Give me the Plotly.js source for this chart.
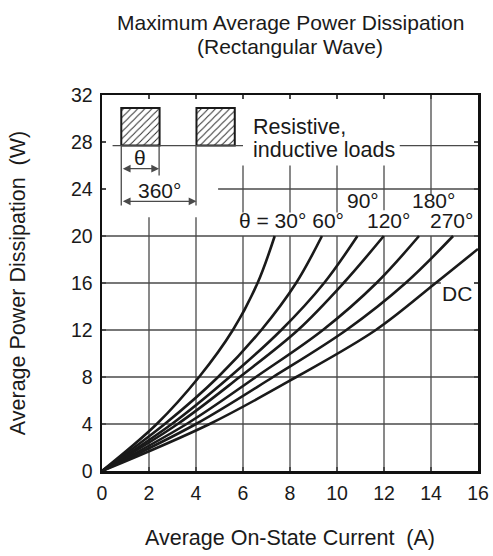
<!DOCTYPE html>
<html>
<head>
<meta charset="utf-8">
<script src="https://cdn.plot.ly/plotly-3.0.1.min.js"></script>
<style>html,body{margin:0;padding:0;background:#fff;}#chart{width:493px;height:556px;}</style>
</head>
<body>
<div id="chart"></div>
<script>
// ---- data ----
const seriesNames = ['30°', '60°', '90°', '120°', '180°', '270°', 'DC'];
const powerAtCrossings = [0, 4, 8, 12, 16, 20];          // W
const current30  = [0, 2.33, 4.13, 5.57, 6.62, 7.35];   // A
const current60  = [0, 2.67, 4.94, 6.78, 8.26, 9.36];
const current90  = [0, 2.97, 5.43, 7.63, 9.45, 10.87];
const current120 = [0, 3.22, 5.86, 8.34, 10.28, 11.99];
const current180 = [0, 3.60, 6.55, 9.40, 11.68, 13.49];
const current270 = [0, 4.00, 7.28, 10.40, 12.92, 14.94];
const currentDC  = [0, 4.58, 8.27, 11.65, 14.20, 16.00];
const powerDC    = [0, 4, 8, 12, 16, 18.9];
const xTicks = [0, 2, 4, 6, 8, 10, 12, 14, 16];
const yTicks = [0, 4, 8, 12, 16, 20, 24, 28, 32];
const titleLines = ['Maximum Average Power Dissipation', '(Rectangular Wave)'];

const FONT = 'Liberation Sans, Arial, sans-serif';
const TXT = '#1a1a1a';
const GRID = '#4a4a4a';

const currents = [current30, current60, current90, current120, current180, current270, currentDC];
const traces = currents.map((cx, i) => ({
  x: cx,
  y: i === 6 ? powerDC : powerAtCrossings,
  name: seriesNames[i],
  mode: 'lines',
  line: {color: '#1a1a1a', width: 2.6, shape: 'spline', smoothing: 1},
  hoverinfo: 'skip',
  showlegend: false
}));

// hatched pulses of the waveform inset
function pulse(x0, x1, y0, y1) {
  return {
    x: [x0, x1, x1, x0, x0], y: [y0, y0, y1, y1, y0],
    mode: 'lines', fill: 'toself', fillcolor: 'white',
    fillpattern: {shape: '/', fgcolor: '#222', bgcolor: 'white', size: 5, solidity: 0.18},
    line: {color: '#1a1a1a', width: 2}, hoverinfo: 'skip', showlegend: false
  };
}
traces.push(pulse(0.82, 2.45, 27.7, 30.9));
traces.push(pulse(4.02, 5.65, 27.7, 30.9));

// grid segments (the reference grid is interrupted by the inset and labels)
const vSeg = [
  [2, 0, 21.6], [4, 0, 21.6], [4, 22.6, 27.7],
  [6, 0, 20], [6, 22.0, 26.0], [8, 0, 20], [8, 22.0, 26.0],
  [10, 0, 20], [10, 22.0, 26.0], [12, 0, 20], [12, 22.2, 26.0],
  [14, 0, 20], [14, 23.5, 32]
];
const hSeg = [
  [4, 0, 16], [8, 0, 16], [12, 0, 16], [16, 0, 14.42], [16, 15.85, 16],
  [20, 0, 16], [24, 4.94, 16], [27.7, 12.67, 16]
];
const shapes = [];
vSeg.forEach(s => shapes.push({type: 'line', xref: 'x', yref: 'y', x0: s[0], x1: s[0], y0: s[1], y1: s[2], line: {color: GRID, width: 1.3}, layer: 'below'}));
hSeg.forEach(s => shapes.push({type: 'line', xref: 'x', yref: 'y', x0: s[1], x1: s[2], y0: s[0], y1: s[0], line: {color: GRID, width: 1.3}, layer: 'below'}));
// inset: baseline and dimension lines
const insetLines = [
  [0.45, 27.7, 6.0, 27.7],
  [0.82, 27.7, 0.82, 22.6],
  [2.43, 27.7, 2.43, 25.15]
];
insetLines.forEach(l => shapes.push({type: 'line', xref: 'x', yref: 'y', x0: l[0], y0: l[1], x1: l[2], y1: l[3], line: {color: GRID, width: 1.3}}));

const ann = [];
function txt(x, y, text, xanchor, size) {
  ann.push({x: x, y: y, xref: 'x', yref: 'y', text: text, showarrow: false,
    xanchor: xanchor || 'center', yanchor: 'middle', font: {family: FONT, size: size || 21, color: TXT}});
}
txt(6.35, 29.3, 'Resistive,', 'left', 21.5);
txt(6.35, 27.35, 'inductive loads', 'left', 21.5);
txt(1.62, 26.7, 'θ', 'center');
txt(2.46, 23.9, '360°', 'center');
txt(11.1, 23.0, '90°', 'center');
txt(14.1, 23.0, '180°', 'center');
txt(5.75, 21.3, 'θ = 30° 60°', 'left');
txt(12.2, 21.3, '120°', 'center');
txt(14.87, 21.3, '270°', 'center');
txt(15.12, 15.1, 'DC', 'center');

// dimension arrows
function dimArrow(x0, x1, y) {
  ann.push({x: x1, y: y, ax: x0, ay: y, xref: 'x', yref: 'y', axref: 'x', ayref: 'y',
    text: '', showarrow: true, arrowhead: 2, startarrowhead: 2, arrowside: 'end+start',
    arrowsize: 1.3, arrowwidth: 1.2, arrowcolor: GRID, standoff: 0, startstandoff: 0});
}
dimArrow(0.82, 2.43, 25.73);
dimArrow(0.82, 4.02, 22.95);

// chart title (two lines, placed separately to match line spacing)
ann.push({xref: 'paper', yref: 'paper', x: 0.5, y: 1.194, text: titleLines[0], showarrow: false,
  xanchor: 'center', yanchor: 'middle', font: {family: FONT, size: 21, color: TXT}});
ann.push({xref: 'paper', yref: 'paper', x: 0.5, y: 1.128, text: titleLines[1], showarrow: false,
  xanchor: 'center', yanchor: 'middle', font: {family: FONT, size: 21, color: TXT}});

// axis titles
ann.push({xref: 'paper', yref: 'paper', x: 0.5, y: -0.178, text: 'Average On-State Current  (A)',
  showarrow: false, xanchor: 'center', yanchor: 'middle', font: {family: FONT, size: 21.5, color: TXT}});
ann.push({xref: 'paper', yref: 'paper', x: -0.223, y: 0.5, text: 'Average Power Dissipation  (W)',
  showarrow: false, textangle: -90, xanchor: 'center', yanchor: 'middle', font: {family: FONT, size: 21.5, color: TXT}});

const layout = {
  width: 493, height: 556,
  margin: {l: 102, r: 15, t: 95, b: 85},
  paper_bgcolor: 'white', plot_bgcolor: 'white',
  xaxis: {range: [0, 16], tickvals: xTicks, ticktext: xTicks.map(String), showgrid: false, zeroline: false,
    showline: true, linecolor: '#111', linewidth: 2.5, mirror: 'allticks', ticks: 'inside', ticklen: 4,
    tickcolor: GRID, tickwidth: 1.3, ticklabelstandoff: 3,
    tickfont: {family: FONT, size: 19.5, color: TXT}, fixedrange: true},
  yaxis: {range: [0, 32], tickvals: yTicks, ticktext: yTicks.map(String), showgrid: false, zeroline: false,
    showline: true, linecolor: '#111', linewidth: 2.5, mirror: 'allticks', ticks: 'inside', ticklen: 4,
    tickcolor: GRID, tickwidth: 1.3, ticklabelstandoff: 3,
    tickfont: {family: FONT, size: 19.5, color: TXT}, fixedrange: true},
  shapes: shapes,
  annotations: ann
};

Plotly.newPlot('chart', traces, layout, {displayModeBar: false, staticPlot: true});
</script>
</body>
</html>
